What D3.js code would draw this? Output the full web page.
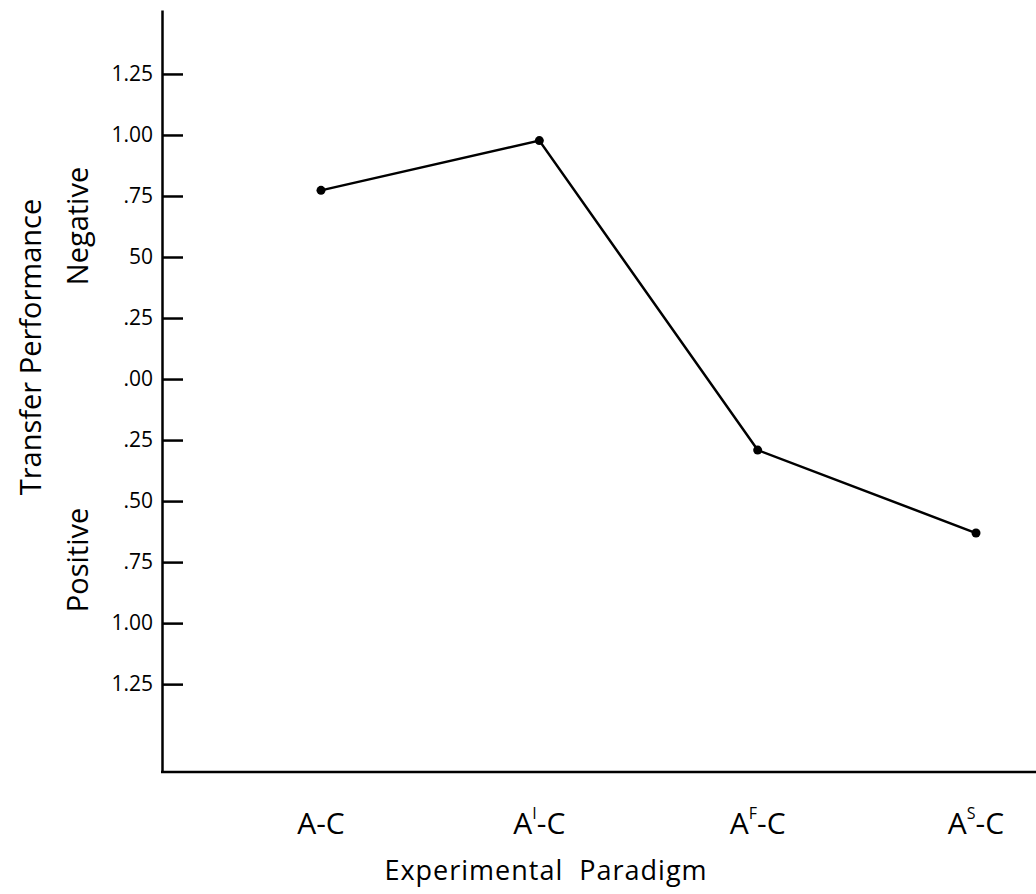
<!DOCTYPE html>
<html lang="en">
<head>
  <meta charset="UTF-8" />
  <title>Transfer Performance by Experimental Paradigm</title>
  <style>
    body { margin: 0; background: #fff; font-family: "Open Sans", sans-serif; }
    .axis path, .axis line { stroke: #000; stroke-width: 2.5; }
    .axis text { font-size: 21px; fill: #000; font-family: "Open Sans", sans-serif; }
  </style>
</head>
<body>
  <div id="chart"></div>
  <script src="https://d3js.org/d3.v7.min.js"></script>
  <script>
    // data
    var categories = ["A-C", "AI-C", "AF-C", "AS-C"];
    var catBase = ["A", "A", "A", "A"];
    var catSup = ["", "I", "F", "S"];
    var catTail = ["-C", "-C", "-C", "-C"];
    var transfer = [0.773, 0.977, -0.291, -0.631];

    var tickValues = [1.25, 1.00, 0.75, 0.50, 0.25, 0, -0.25, -0.50, -0.75, -1.00, -1.25];
    var tickLabels = ["1.25", "1.00", ".75", "50", ".25", ".00", ".25", ".50", ".75", "1.00", "1.25"];

    var width = 1036, height = 894;

    var svg = d3.select("#chart")
      .append("svg")
      .attr("width", width)
      .attr("height", height);

    var x = d3.scalePoint()
      .domain(categories)
      .range([321, 976]);

    var y = d3.scaleLinear()
      .domain([-1.61, 1.512])
      .range([772, 10]);

    // y axis, ticks point inward
    var yAxis = d3.axisLeft(y)
      .tickValues(tickValues)
      .tickSizeInner(-21)
      .tickSizeOuter(0)
      .tickPadding(9)
      .tickFormat(function(d, i) { return tickLabels[i]; });

    svg.append("g")
      .attr("class", "axis")
      .attr("transform", "translate(162,0)")
      .call(yAxis);

    // x axis line
    svg.append("line")
      .attr("x1", 161)
      .attr("x2", 1036)
      .attr("y1", 772)
      .attr("y2", 772)
      .attr("stroke", "#000")
      .attr("stroke-width", 2.5);

    // category labels with superscripts
    var lab = svg.selectAll(".xlab")
      .data(categories)
      .enter()
      .append("text")
      .attr("class", "xlab")
      .attr("x", function(d) { return x(d); })
      .attr("y", 834)
      .attr("text-anchor", "middle")
      .attr("font-size", 30);

    lab.append("tspan").text(function(d, i) { return catBase[i]; });
    lab.append("tspan")
      .attr("font-size", 16)
      .attr("dy", -15)
      .text(function(d, i) { return catSup[i]; });
    lab.append("tspan")
      .attr("dy", function(d, i) { return catSup[i] ? 15 : 0; })
      .text(function(d, i) { return catTail[i]; });

    // line
    var line = d3.line()
      .x(function(d, i) { return x(categories[i]); })
      .y(function(d) { return y(d); });

    svg.append("path")
      .datum(transfer)
      .attr("d", line)
      .attr("fill", "none")
      .attr("stroke", "#000")
      .attr("stroke-width", 2.5);

    svg.selectAll(".dot")
      .data(transfer)
      .enter()
      .append("circle")
      .attr("class", "dot")
      .attr("cx", function(d, i) { return x(categories[i]); })
      .attr("cy", function(d) { return y(d); })
      .attr("r", 4.5)
      .attr("fill", "#000");

    // axis titles
    svg.append("text")
      .attr("transform", "translate(41,347) rotate(-90)")
      .attr("text-anchor", "middle")
      .attr("font-size", 29)
      .text("Transfer Performance");

    svg.append("text")
      .attr("transform", "translate(88,226) rotate(-90)")
      .attr("text-anchor", "middle")
      .attr("font-size", 29)
      .text("Negative");

    svg.append("text")
      .attr("transform", "translate(88,560) rotate(-90)")
      .attr("text-anchor", "middle")
      .attr("font-size", 29)
      .text("Positive");

    svg.append("text")
      .attr("x", 546)
      .attr("y", 880)
      .attr("text-anchor", "middle")
      .attr("font-size", 27)
      .attr("letter-spacing", 1)
      .style("white-space", "pre")
      .text("Experimental  Paradigm");
  </script>
</body>
</html>
